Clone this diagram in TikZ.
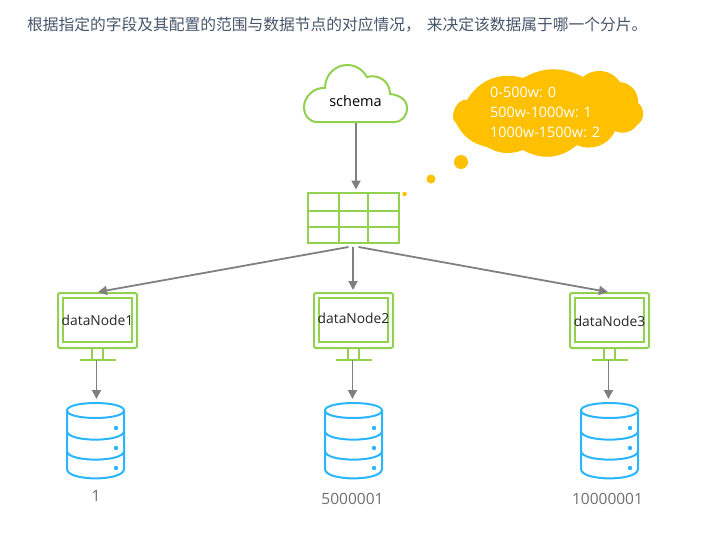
\documentclass[tikz,border=0pt]{standalone}
\usepackage{fontspec}
\setmainfont{Open Sans}
\newfontfamily\cjk{Noto Sans CJK SC}
\usepackage{tikz}
\usetikzlibrary{arrows.meta,positioning,calc}
\definecolor{leaf}{HTML}{92D050}
\definecolor{amber}{HTML}{FFC000}
\definecolor{sky}{HTML}{29B6FF}
\definecolor{arrowgray}{HTML}{808080}
\definecolor{titlegray}{HTML}{46566A}
\definecolor{labelgray}{HTML}{6E6E6E}
\tikzset{
 link/.style={arrowgray,line width=1.8pt,-{Triangle[width=9pt,length=9pt]}},
 monitor/.style={draw=leaf,line width=2pt,rounded corners=2pt,minimum width=79pt,minimum height=55pt,inner sep=0pt},
 dot/.style={circle,fill=amber,inner sep=0pt,minimum size=#1},
}
\begin{document}
\begin{tikzpicture}[x=1pt,y=-1pt,font=\fontsize{13.8}{15}\selectfont]
\useasboundingbox (0,0) rectangle (716,555);
\node[anchor=west,titlegray,font=\fontsize{15.75}{18}\cjk,inner sep=0pt] (title) at (27,25)
 {根据指定的字段及其配置的范围与数据节点的对应情况，\hspace{6pt}来决定该数据属于哪一个分片。};
\draw[leaf,line width=2pt,fill=white] (317,122) .. controls (309,122) and (304,115) .. (304,107)
 .. controls (304,97) and (314,87) .. (325,88) .. controls (325,74) and (336,65) .. (347,65)
 .. controls (356,65) and (363,70) .. (367,77) .. controls (377,74) and (390,80) .. (390,94)
 .. controls (400,95) and (407,100) .. (407,108) .. controls (407,116) and (402,122) .. (394,122) -- cycle;
\node[minimum width=103pt,minimum height=44pt,inner sep=0pt,font=\fontsize{14.5}{16}\selectfont] (schema) at (355.5,101) {schema};
\fill[amber] (467,100) to[bend left=38] (523,78) to[bend left=28] (583,77) to[bend left=50] (620,82)
 to[bend left=45] (638,103) to[bend left=60] (637,125) to[bend left=40] (615,131)
 to[bend left=45] (577,145) to[bend left=35] (523,150) to[bend left=25] (487,147)
 to[bend left=25] (456,123) to[bend left=80] cycle;
\node[anchor=west,white,align=left,inner sep=0pt,font=\fontsize{14.4}{20}\selectfont] (ranges) at (490,112)
 {0-500w: 0\\500w-1000w: 1\\1000w-1500w: 2};
\node[dot=14pt] (bubbleA) at (461,162) {};
\node[dot=9pt] (bubbleB) at (431,179) {};
\node[dot=4.5pt] (bubbleC) at (404.5,194) {};
\node[draw=leaf,line width=2pt,minimum width=91pt,minimum height=50pt,inner sep=0pt] (tbl) at (353.5,218) {};
\foreach \x in {339,368}{
 \draw[leaf,line width=2pt] (\x,193) -- (\x,243);
}
\foreach \y in {211,227}{
 \draw[leaf,line width=2pt] (308,\y) -- (399,\y);
}
\draw[link] ([xshift=.5pt]schema.south) -- ([xshift=2.5pt,yshift=2.5pt]tbl.north);
\foreach \i/\x/\ty/\num/\cx/\lx/\ly in {1/97.5/320/1/95.5/96/496,2/353.5/318/5000001/353.5/352.5/499,3/609.5/321/10000001/609.5/607.5/499}{
 \node[monitor] (dn\i) at (\x,320.5) {};
 \draw[leaf,line width=1.8pt] (\x-34.5,298) rectangle (\x+34.5,342);
 \node[black!85,inner sep=0pt] (name\i) at (\x,\ty) {dataNode\i};
 \draw[leaf,line width=1.8pt] (\x-5.5,348) -- (\x-5.5,360) (\x+5.5,348) -- (\x+5.5,360) (\x-18,360) -- (\x+18,360);
 \coordinate (base\i) at (\x-1,360);
 \coordinate (db\i) at (\x-1,399);
 \draw[link] (base\i) -- (db\i);
 \draw[sky,line width=2pt] (\cx-28.5,410.5) .. controls (\cx-28.5,400.5) and (\cx+28.5,400.5) .. (\cx+28.5,410.5)
  .. controls (\cx+28.5,420.5) and (\cx-28.5,420.5) .. cycle;
 \draw[sky,line width=2pt] (\cx-28.5,410.5) -- (\cx-28.5,469) .. controls (\cx-28.5,481.5) and (\cx+28.5,481.5) .. (\cx+28.5,469) -- (\cx+28.5,410.5);
 \foreach \s in {431,451}{
  \draw[sky,line width=2pt] (\cx-28.5,\s) .. controls (\cx-28.5,\s+11.5) and (\cx+28.5,\s+11.5) .. (\cx+28.5,\s);
 }
 \foreach \s in {428,448,468}{
  \fill[sky] (\cx+20.5,\s) circle (2.2pt);
 }
 \node[labelgray,inner sep=0pt,font=\fontsize{15.5}{17}\selectfont] (num\i) at (\lx,\ly) {\num};
}
\draw[link] ([xshift=-5pt,yshift=-3pt]tbl.south) -- ([xshift=.5pt]dn1.north);
\draw[link] ([xshift=-.5pt,yshift=-3pt]tbl.south) -- ([yshift=2pt,xshift=-.5pt]dn2.north);
\draw[link] ([xshift=5pt,yshift=-3pt]tbl.south) -- ([xshift=-1.5pt]dn3.north);
\end{tikzpicture}
\end{document}
